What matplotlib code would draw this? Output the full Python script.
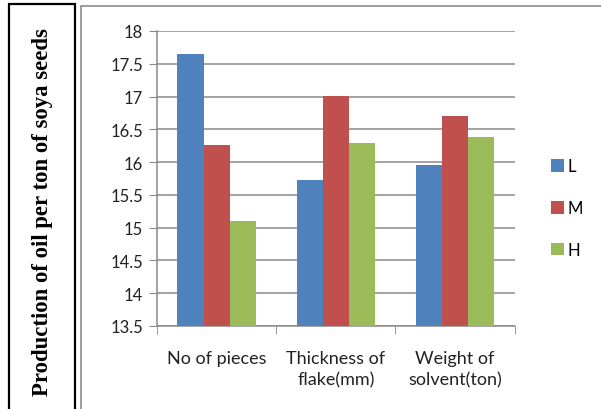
import numpy as np
import matplotlib
matplotlib.use("Agg")
from matplotlib import pyplot as plt
from matplotlib.patches import Rectangle

categories = ["No of pieces", "Thickness of\nflake(mm)", "Weight of\nsolvent(ton)"]
series = ["L", "M", "H"]
values_L = [17.65, 15.73, 15.95]
values_M = [16.26, 17.01, 16.71]
values_H = [15.10, 16.29, 16.39]
colors = ["#4F81BD", "#C0504D", "#9BBB59"]
yticks = [13.5, 14, 14.5, 15, 15.5, 16, 16.5, 17, 17.5, 18]

W, H = 601, 410
fig = plt.figure(figsize=(W / 100, H / 100), dpi=100)
fig.patch.set_facecolor("white")

# boxes around label and chart
fig.add_artist(Rectangle((9 / W, -5 / H), 66 / W, 410 / H, transform=fig.transFigure,
                         fill=False, edgecolor="black", linewidth=1.6))
fig.add_artist(Rectangle((81 / W, -5 / H), 540 / W, 408 / H, transform=fig.transFigure,
                         fill=False, edgecolor="#8c8c8c", linewidth=1.2))

fig.text(43 / W, 0.483, "Production of oil per ton of soya seeds", rotation=90,
         ha="center", va="center", family="Liberation Serif", fontweight="bold",
         fontsize=16.4)

ax = fig.add_axes([157 / W, 83 / H, 357.7 / W, 295 / H])

x = np.arange(len(categories))
width = 0.22
for i, (name, vals) in enumerate(zip(series, [values_L, values_M, values_H])):
    ax.bar(x + (i - 1) * width, np.array(vals) - 13.5, width, bottom=13.5,
           color=colors[i], label=name, zorder=3)

ax.set_ylim(13.5, 18)
ax.set_xlim(-0.5, 2.5)
ax.set_yticks(yticks)
ax.set_yticklabels([f"{t:g}" for t in yticks], family="Lato", fontsize=12, color="#222222")
ax.yaxis.grid(True, color="#8a8a8a", linewidth=1.1, zorder=0)
ax.set_xticks(x)
ax.set_xticklabels(categories, family="Lato", fontsize=13, color="#222222", linespacing=1.45)
ax.set_xticks([-0.5, 0.5, 1.5, 2.5], minor=True)
ax.tick_params(axis="x", which="major", length=0, pad=17)
ax.tick_params(axis="x", which="minor", length=6, color="#8a8a8a", direction="out")
ax.tick_params(axis="y", length=6, color="#8a8a8a", direction="out", pad=4)

for side in ["top", "right"]:
    ax.spines[side].set_visible(False)
ax.spines["left"].set_color("#8a8a8a")
ax.spines["bottom"].set_color("#8a8a8a")
ax.spines["left"].set_linewidth(1.1)
ax.spines["bottom"].set_linewidth(1.1)

leg = ax.legend(loc="center left", bbox_to_anchor=(1.06, 0.40), frameon=False,
                prop={"family": "Lato", "size": 12}, handlelength=0.8,
                handleheight=0.8, handletextpad=0.2, labelspacing=1.55)

fig.savefig("out.png", dpi=100)
